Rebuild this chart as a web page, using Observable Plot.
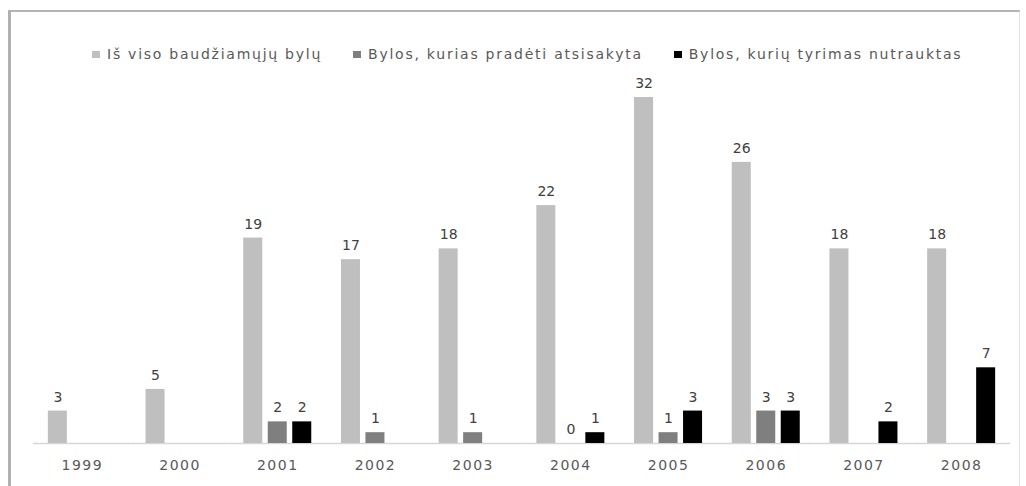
<!DOCTYPE html>
<html><head><meta charset="utf-8">
<script src="https://cdn.jsdelivr.net/npm/d3@7"></script>
<script src="https://cdn.jsdelivr.net/npm/@observablehq/plot@0.6"></script>
<style>
body{margin:0;background:#fff;width:1026px;height:486px;overflow:hidden;position:relative;font-family:"DejaVu Sans",sans-serif}
#frame{position:absolute;left:8px;top:10px;width:1008px;height:520px;border-top:2px solid #b4b4b4;border-left:3px solid #b0b0b0;border-right:1px solid #e2e2e2}
#legend{position:absolute;left:92px;top:46px;display:flex;align-items:center;font-size:14px;letter-spacing:1.75px;color:#595959;white-space:nowrap}
.item{display:flex;align-items:center;margin-right:31px}
.sw{width:8px;height:7px;margin-right:7px}
#chart{position:absolute;left:0;top:73px}
</style></head>
<body>
<div id="frame"></div>
<div id="legend"></div>
<div id="chart"></div>
<script>
const years = ["1999","2000","2001","2002","2003","2004","2005","2006","2007","2008"];
const seriesNames = ["Iš viso baudžiamųjų bylų","Bylos, kurias pradėti atsisakyta","Bylos, kurių tyrimas nutrauktas"];
const total = [3,5,19,17,18,22,32,26,18,18];
const declined = [null,null,2,1,1,0,1,3,null,null];
const terminated = [null,null,2,null,null,1,3,3,2,7];
const colors = ["#bfbfbf","#7f7f7f","#000000"];

const seriesValues = [total, declined, terminated];
const rows = [];
years.forEach((yr, i) => {
  seriesValues.forEach((vals, s) => {
    if (vals[i] != null) rows.push({year: yr, series: seriesNames[s], value: vals[i]});
  });
});

const legend = document.getElementById("legend");
seriesNames.forEach((n, i) => {
  const it = document.createElement("div"); it.className = "item";
  const sw = document.createElement("div"); sw.className = "sw"; sw.style.background = colors[i];
  const t = document.createElement("span"); t.textContent = n;
  it.appendChild(sw); it.appendChild(t); legend.appendChild(it);
});

const chart = Plot.plot({
  width: 1026,
  height: 413,
  marginLeft: 33,
  marginRight: 16,
  marginTop: 24,
  marginBottom: 43,
  style: {fontFamily: "DejaVu Sans, sans-serif", fontSize: "14px", background: "transparent"},
  fx: {domain: years, padding: 0, round: false, axis: "bottom", tickSize: 0, tickPadding: 17, label: null},
  x: {domain: seriesNames, paddingInner: 0.224, paddingOuter: 0.606, round: false, axis: null},
  y: {domain: [0, 32], axis: null},
  color: {domain: seriesNames, range: colors},
  marks: [
    Plot.ruleY([0], {stroke: "#d6d6d6", strokeWidth: 1.5}),
    Plot.barY(rows, {fx: "year", x: "series", y: "value", fill: "series"}),
    Plot.text(rows, {fx: "year", x: "series", y: "value", text: d => String(d.value), dy: -14, fill: "#404040", fontSize: 14})
  ]
});
chart.querySelectorAll("g[aria-label^='fx-axis'] text").forEach(t => { t.setAttribute("fill", "#595959"); t.style.letterSpacing = "1.5px"; });
document.getElementById("chart").appendChild(chart);
</script>
</body></html>
